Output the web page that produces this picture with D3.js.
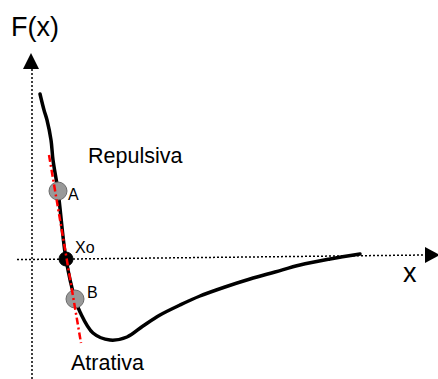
<!DOCTYPE html>
<html>
<head>
<meta charset="utf-8">
<script src="https://cdn.jsdelivr.net/npm/d3@7"></script>
<style>
  html, body { margin: 0; padding: 0; background: #fff; }
  svg { display: block; }
  text { font-family: "Liberation Sans", Arial, sans-serif; fill: #000; }
</style>
</head>
<body>
<svg id="chart" width="438" height="379"></svg>
<script>
// Force curve F(x): sampled points (x, F) in chart units
const curveX = [2, 3, 3.75, 4.75, 5.25, 6.5, 8.5, 10.75, 12, 15.25, 19.5, 23.75, 27.75, 32, 37, 42, 48.25, 54.5, 60.75, 67, 74.5, 82];
const curveF = [41.25, 37.25, 34.75, 29.75, 24.75, 17, 0, -10, -13.25, -18.5, -20.25, -19.5, -16.75, -14, -11.5, -9.25, -7, -5, -3.25, -1.5, 0, 1.25];

// Tangent line at the equilibrium point
const tangentX = [4.25, 12.25];
const tangentF = [26, -21];

// Marked points on the curve
const pointNames = ["A", "Xo", "B"];
const pointX = [6.5, 8.5, 10.75];
const pointF = [17, 0, -10];

// Axis extents
const hAxisX = [-3.75, 98.5];
const hAxisF = [-0.15, 1.0];
const vAxisF = [47.5, -30];

const svg = d3.select("#chart");

const x = d3.scaleLinear().domain([0, 100]).range([32, 432]);
const y = d3.scaleLinear().domain([-20, 50]).range([339, 59]);

// Horizontal axis (dotted) with arrow head
svg.append("line")
  .attr("x1", x(hAxisX[0])).attr("y1", y(hAxisF[0]))
  .attr("x2", x(hAxisX[1])).attr("y2", y(hAxisF[1]))
  .attr("stroke", "#000").attr("stroke-width", 1.5)
  .attr("stroke-dasharray", "2,2");
{
  const tx = x(hAxisX[1]), ty = y(hAxisF[1]);
  svg.append("path")
    .attr("d", `M${tx + 14},${ty} L${tx - 1},${ty - 8} L${tx - 1},${ty + 8} Z`)
    .attr("fill", "#000");
}

// Vertical axis (dotted) with arrow head
svg.append("line")
  .attr("x1", x(0)).attr("y1", y(vAxisF[0]))
  .attr("x2", x(0)).attr("y2", y(vAxisF[1]))
  .attr("stroke", "#000").attr("stroke-width", 1.5)
  .attr("stroke-dasharray", "2,2");
{
  const tx = x(0) - 1, ty = y(vAxisF[0]);
  svg.append("path")
    .attr("d", `M${tx},${ty - 16} L${tx - 8},${ty} L${tx + 8},${ty} Z`)
    .attr("fill", "#000");
}

// Force curve
const curveData = curveX.map((v, i) => [v, curveF[i]]);
const line = d3.line()
  .x(d => x(d[0]))
  .y(d => y(d[1]))
  .curve(d3.curveCatmullRom.alpha(0.5));
svg.append("path")
  .datum(curveData)
  .attr("d", line)
  .attr("fill", "none")
  .attr("stroke", "#000")
  .attr("stroke-width", 3.5)
  .attr("stroke-linecap", "round");

// Points A, Xo, B
const pts = pointNames.map((n, i) => ({ name: n, x: pointX[i], f: pointF[i] }));
svg.selectAll("circle.pt")
  .data(pts)
  .join("circle")
  .attr("class", "pt")
  .attr("cx", d => x(d.x))
  .attr("cy", d => y(d.f))
  .attr("r", d => d.name === "Xo" ? 7 : 9)
  .attr("fill", d => d.name === "Xo" ? "#000" : "#999")
  .attr("stroke", d => d.name === "Xo" ? "#000" : "#6b6b6b")
  .attr("stroke-width", 1);

// Tangent (red dash-dot)
svg.append("line")
  .attr("x1", x(tangentX[0])).attr("y1", y(tangentF[0]))
  .attr("x2", x(tangentX[1])).attr("y2", y(tangentF[1]))
  .attr("stroke", "#ff0000").attr("stroke-width", 2.5)
  .attr("stroke-dasharray", "7,3,2,3");

// Point labels
const labelOffsets = { A: [10, 9], Xo: [9, -6], B: [12, -1] };
svg.selectAll("text.pt")
  .data(pts)
  .join("text")
  .attr("class", "pt")
  .attr("x", d => x(d.x) + labelOffsets[d.name][0])
  .attr("y", d => y(d.f) + labelOffsets[d.name][1])
  .attr("font-size", 16)
  .text(d => d.name);

// Axis titles and region labels
svg.append("text").attr("x", 11).attr("y", 36).attr("font-size", 27).text("F(x)");
svg.append("text").attr("x", 403).attr("y", 282).attr("font-size", 27).text("x");
svg.append("text").attr("x", 88).attr("y", 163).attr("font-size", 21.5).text("Repulsiva");
svg.append("text").attr("x", 71).attr("y", 370).attr("font-size", 21.5).text("Atrativa");
</script>
</body>
</html>
